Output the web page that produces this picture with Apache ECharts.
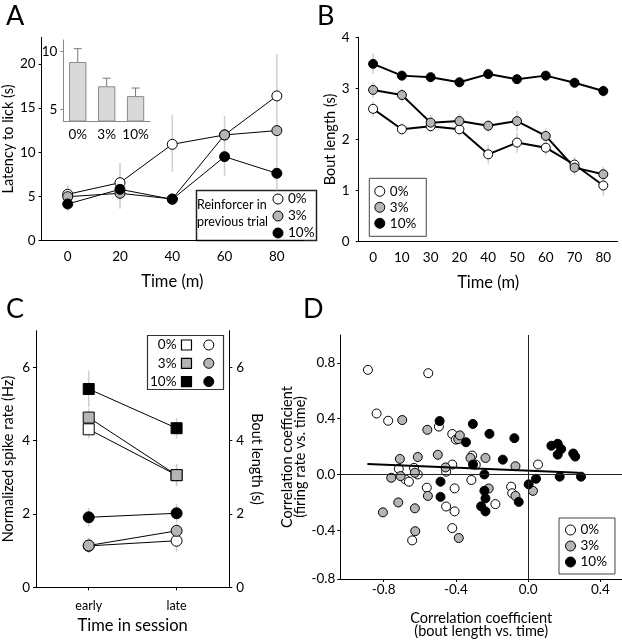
<!DOCTYPE html>
<html>
<head>
<meta charset="utf-8">
<script src="https://cdn.jsdelivr.net/npm/echarts@6/dist/echarts.min.js"></script>
<style>
  html, body { margin: 0; padding: 0; background: #fff; }
  #main { width: 622px; height: 640px; }
</style>
</head>
<body>
<div id="main"></div>
<script>
// ===== data =====
var groups = ['0%', '3%', '10%'];

// A: latency to lick (s) vs time (m)
var timeA = [0, 20, 40, 60, 80];
var latency0 = [5.25, 6.56, 10.9, 11.96, 16.37];
var latency3 = [4.98, 5.36, 4.72, 11.96, 12.45];
var latency10 = [4.15, 5.81, 4.68, 9.5, 7.62];
var latencyLow = [3.3, 3.6, 7.8, 7.3, 5.7];
var latencyHigh = [6.3, 8.8, 14.2, 14.1, 21.1];
var yTicksA = [0, 5, 10, 15, 20];
// A inset
var insetMean = [9.1, 7.0, 6.15];
var insetTop = [10.25, 7.7, 6.85];
var yTicksInset = [5, 10];

// B: bout length (s), categories kept as printed
var timeB = ['0', '10', '30', '20', '40', '50', '60', '70', '80'];
var bout0 = [2.6, 2.2, 2.26, 2.2, 1.71, 1.94, 1.84, 1.51, 1.10];
var bout3 = [2.97, 2.87, 2.33, 2.36, 2.27, 2.36, 2.07, 1.45, 1.32];
var bout10 = [3.48, 3.25, 3.22, 3.12, 3.28, 3.18, 3.25, 3.11, 2.95];
var boutSe0 = [0.15, 0.12, 0.12, 0.12, 0.18, 0.2, 0.15, 0.15, 0.2];
var boutSe3 = [0.15, 0.12, 0.15, 0.15, 0.12, 0.2, 0.15, 0.15, 0.15];
var boutSe10 = [0.2, 0.1, 0.1, 0.1, 0.1, 0.1, 0.1, 0.1, 0.12];

// C: spike rate (squares) and bout length (circles), early vs late
var sessions = ['early', 'late'];
var rate0 = [4.31, 3.06];
var rate3 = [4.63, 3.06];
var rate10 = [5.41, 4.34];
var rateSe0 = [0.25, 0.3];
var rateSe3 = [0.25, 0.3];
var rateSe10 = [0.5, 0.28];
var boutC0 = [1.13, 1.27];
var boutC3 = [1.14, 1.54];
var boutC10 = [1.91, 2.02];
var boutCSe0 = [0.2, 0.3];
var boutCSe3 = [0.2, 0.2];
var boutCSe10 = [0.25, 0.25];
var yTicksC = [0, 2, 4, 6];

// D: correlation coefficients [bout length vs time, firing rate vs time]
var dWhite = [[-0.887,0.75],[-0.553,0.726],[-0.839,0.437],[-0.775,0.385],[-0.494,0.343],[-0.42,0.29],
  [-0.40,0.25],[-0.31,0.135],[-0.42,0.071],[-0.454,0.02],[-0.716,0.04],[-0.679,-0.036],[-0.66,-0.052],
  [-0.632,0.047],[-0.611,0.0],[-0.561,-0.095],[-0.407,-0.1],[-0.454,-0.23],[-0.407,-0.265],
  [-0.42,-0.385],[-0.642,-0.473],[-0.314,-0.04],[-0.181,-0.213],[-0.094,-0.088],[-0.088,-0.135],
  [0.055,0.071],[-0.29,0.07]];
var dGray = [[-0.697,0.39],[-0.558,0.32],[-0.387,0.253],[-0.378,0.28],[-0.71,0.111],[-0.611,0.125],
  [-0.5,0.141],[-0.319,0.118],[-0.236,0.118],[-0.758,-0.024],[-0.706,-0.012],[-0.627,0.012],
  [-0.457,0.05],[-0.555,-0.154],[-0.719,-0.201],[-0.804,-0.272],[-0.627,-0.243],[-0.625,-0.407],
  [-0.384,-0.456],[-0.218,-0.101],[-0.07,0.059],[-0.07,-0.154],[0.027,-0.118]];
var dBlack = [[-0.49,0.383],[-0.306,0.362],[-0.214,0.291],[-0.076,0.26],[-0.344,0.231],[0.129,0.206],
  [0.164,0.22],[0.183,0.182],[0.164,0.142],[0.25,0.15],[0.261,0.128],[-0.14,0.106],[-0.305,0.071],
  [-0.485,-0.052],[-0.485,-0.161],[-0.242,0.0],[-0.242,-0.117],[-0.236,-0.172],[-0.26,-0.229],
  [-0.236,-0.265],[-0.052,-0.197],[0.003,-0.071],[0.044,-0.031],[0.175,-0.016],[0.293,-0.016]];
var dFit = [[-0.89, 0.075], [0.28, 0.012]];
var xTicksD = [-0.8, -0.4, 0, 0.4];
var yTicksD = [-0.75, -0.4, 0, 0.4, 0.8]; // bottom tick printed as -0.8 in the figure

// ===== chart =====
var chart = echarts.init(document.getElementById('main'));
var FONT = 'Lato, "Open Sans", sans-serif';
var fills = { '0%': '#ffffff', '3%': '#b5b5b5', '10%': '#000000' };

function valAxis(o) {
  var ax = {
    type: 'value',
    axisLine: { show: true, onZero: false, lineStyle: { color: '#000', width: 1 } },
    axisTick: { show: true, length: 3, lineStyle: { color: '#000' } },
    axisLabel: { color: '#000', fontSize: 13.5, fontFamily: FONT, margin: 6 },
    splitLine: { show: false },
    nameTextStyle: { color: '#000', fontSize: 14.5, fontFamily: FONT }
  };
  for (var k in o) {
    if (typeof o[k] === 'object' && ax[k] && !Array.isArray(o[k])) {
      for (var j in o[k]) ax[k][j] = o[k][j];
    } else ax[k] = o[k];
  }
  return ax;
}

function errSeries(xi, yi, rows, color, width) {
  return {
    type: 'custom', xAxisIndex: xi, yAxisIndex: yi, silent: true, z: 1,
    renderItem: function (params, api) {
      var a = api.coord([api.value(0), api.value(1)]);
      var b = api.coord([api.value(0), api.value(2)]);
      return { type: 'line', shape: { x1: a[0], y1: a[1], x2: b[0], y2: b[1] },
        style: { stroke: color, lineWidth: width } };
    },
    data: rows
  };
}

function seRows(vals, se) {
  return vals.map(function (v, i) { return [i, v - se[i], v + se[i]]; });
}

function lineSeries(name, xi, yi, data, symbol, size, lw) {
  return {
    name: name, type: 'line', xAxisIndex: xi, yAxisIndex: yi, data: data,
    symbol: symbol, symbolSize: size, z: 3,
    itemStyle: { color: fills[name.replace('sq', '')], borderColor: '#000', borderWidth: 1 },
    lineStyle: { color: '#000', width: lw },
    emphasis: { disabled: true }
  };
}

function zip(xs, ys) { return xs.map(function (x, i) { return [x, ys[i]]; }); }

var legendText = { color: '#000', fontSize: 13.5, fontFamily: FONT, lineHeight: 12 };

var option = {
  animation: false,
  backgroundColor: '#fff',
  textStyle: { fontFamily: FONT },
  title: [
    { text: 'A', left: 1, top: -2 },
    { text: 'B', left: 312, top: -2 },
    { text: 'C', left: 1, top: 291 },
    { text: 'D', left: 298, top: 291 }
  ].map(function (t) {
    t.textStyle = { fontSize: 27, fontWeight: 'normal', color: '#000', fontFamily: FONT };
    return t;
  }),
  grid: [
    { left: 35, top: 37.3, width: 268, height: 203.4 },      // A
    { left: 63.3, top: 40, width: 86.7, height: 81 },         // A inset
    { left: 358.7, top: 37.3, width: 259, height: 204.4 },   // B
    { left: 33.3, top: 330.7, width: 196, height: 256.6 },   // C
    { left: 340.3, top: 335, width: 281.7, height: 245 }     // D
  ],
  xAxis: [
    valAxis({ gridIndex: 0, min: -10, max: 90, name: 'Time (m)', nameLocation: 'middle', nameGap: 32,
      nameTextStyle: { fontSize: 16.5 },
      axisTick: { customValues: timeA, length: 0 }, axisLabel: { customValues: timeA, margin: 9 } }),
    { type: 'category', gridIndex: 1, data: groups,
      axisLine: { lineStyle: { color: '#888' } }, axisTick: { show: false },
      axisLabel: { color: '#000', fontSize: 13.5, fontFamily: FONT, margin: 7, interval: 0 } },
    { type: 'category', gridIndex: 2, data: timeB, name: 'Time (m)', nameLocation: 'middle', nameGap: 32,
      nameTextStyle: { color: '#000', fontSize: 16.5, fontFamily: FONT },
      axisLine: { lineStyle: { color: '#000' } }, axisTick: { show: false },
      axisLabel: { color: '#000', fontSize: 13.5, fontFamily: FONT, margin: 9, interval: 0 } },
    valAxis({ gridIndex: 3, min: -0.6, max: 1.6, name: 'Time in session', nameLocation: 'middle', nameGap: 30,
      nameTextStyle: { fontSize: 16.5 },
      axisTick: { customValues: [0, 1], length: 3 },
      axisLabel: { customValues: [0, 1], fontSize: 12.5, margin: 12,
        formatter: function (v) { return sessions[Math.round(v)]; } } }),
    valAxis({ gridIndex: 4, min: -1.04, max: 0.52, name: 'Correlation coefficient\n(bout length vs. time)',
      nameLocation: 'middle', nameGap: 33, nameTextStyle: { fontSize: 14.5, lineHeight: 13 },
      axisTick: { customValues: xTicksD, length: 3 },
      axisLabel: { customValues: xTicksD, margin: 4, formatter: function (v) { return v.toFixed(1); } } })
  ],
  yAxis: [
    valAxis({ gridIndex: 0, min: 0, max: 23, name: 'Latency to lick (s)', nameLocation: 'middle', nameGap: 21,
      axisTick: { customValues: yTicksA }, axisLabel: { customValues: yTicksA } }),
    valAxis({ gridIndex: 1, min: 4, max: 11,
      axisLine: { lineStyle: { color: '#888' } },
      axisTick: { customValues: yTicksInset, lineStyle: { color: '#888' } },
      axisLabel: { customValues: yTicksInset } }),
    valAxis({ gridIndex: 2, min: 0, max: 4, interval: 1, name: 'Bout length (s)', nameLocation: 'middle', nameGap: 19,
      axisLabel: { margin: 9 } }),
    valAxis({ gridIndex: 3, min: 0, max: 7, name: 'Normalized spike rate (Hz)', nameLocation: 'middle', nameGap: 20,
      axisTick: { customValues: yTicksC }, axisLabel: { customValues: yTicksC } }),
    valAxis({ gridIndex: 3, min: 0, max: 7, position: 'right', name: 'Bout length (s)', nameLocation: 'middle',
      nameGap: 20, nameRotate: -90,
      axisTick: { customValues: yTicksC }, axisLabel: { customValues: yTicksC, margin: 7 } }),
    valAxis({ gridIndex: 4, min: -0.75, max: 1.0, name: 'Correlation coefficient\n(firing rate vs. time)',
      nameLocation: 'middle', nameGap: 32, nameTextStyle: { fontSize: 14.5, lineHeight: 13 },
      axisTick: { customValues: yTicksD },
      axisLabel: { customValues: yTicksD, margin: 5,
        formatter: function (v) { return v < -0.7 ? '-0.8' : v.toFixed(1); } } })
  ],
  legend: [
    { // A
      data: groups.map(function (g) { return { name: g, icon: 'circle' }; }),
      orient: 'vertical', left: 272.5, top: 192, padding: 0, itemGap: 3,
      itemWidth: 10, itemHeight: 10, selectedMode: false, textStyle: legendText,
      itemStyle: { borderColor: '#000', borderWidth: 1 }
    },
    { // B
      data: groups.map(function (g) { return { name: g, icon: 'circle' }; }),
      orient: 'vertical', left: 369.3, top: 178.3, padding: [6, 10, 6, 5], itemGap: 2,
      itemWidth: 10, itemHeight: 10, selectedMode: false, textStyle: legendText,
      borderColor: '#444', borderWidth: 1,
      itemStyle: { borderColor: '#000', borderWidth: 1 }
    },
    { // C squares, text on the left
      data: groups.map(function (g) { return { name: 'sq' + g, icon: 'rect' }; }),
      formatter: function (n) { return n.replace('sq', ''); },
      orient: 'vertical', left: 150, top: 338, padding: 0, itemGap: 4.3, align: 'right',
      itemWidth: 10, itemHeight: 10, selectedMode: false, textStyle: legendText,
      itemStyle: { borderColor: '#000', borderWidth: 1.2 }
    },
    { // C circles, no text
      data: groups.map(function (g) { return { name: g, icon: 'circle' }; }),
      formatter: function () { return ' '; },
      orient: 'vertical', left: 203.3, top: 338, padding: 0, itemGap: 4.3,
      itemWidth: 10, itemHeight: 10, selectedMode: false, textStyle: legendText,
      itemStyle: { borderColor: '#000', borderWidth: 1 }
    },
    { // D
      data: groups.map(function (g) { return { name: g, icon: 'circle' }; }),
      orient: 'vertical', left: 559, top: 518, padding: [5, 8, 5, 6], itemGap: 2,
      itemWidth: 10, itemHeight: 10, selectedMode: false, textStyle: legendText,
      borderColor: '#444', borderWidth: 1,
      itemStyle: { borderColor: '#000', borderWidth: 1 }
    }
  ],
  graphic: [
    { type: 'rect', left: 194, top: 188, shape: { width: 120, height: 50 },
      style: { fill: 'none', stroke: '#222', lineWidth: 1.5 } },
    { type: 'text', left: 197, top: 196,
      style: { text: 'Reinforcer in\nprevious trial', font: '12.5px Lato', lineHeight: 17, fill: '#000' } },
    { type: 'rect', left: 145, top: 333, shape: { width: 76, height: 54 },
      style: { fill: 'none', stroke: '#333', lineWidth: 1.2 } }
  ],
  series: [
    // A
    errSeries(0, 0, timeA.map(function (t, i) { return [t, latencyLow[i], latencyHigh[i]]; }), '#cfcfcf', 1.5),
    lineSeries('0%', 0, 0, zip(timeA, latency0), 'circle', 10, 1),
    lineSeries('3%', 0, 0, zip(timeA, latency3), 'circle', 10, 1),
    lineSeries('10%', 0, 0, zip(timeA, latency10), 'circle', 10, 1),
    // A inset
    {
      type: 'bar', xAxisIndex: 1, yAxisIndex: 1, data: insetMean, barWidth: '60%', silent: true,
      itemStyle: { color: '#d9d9d9', borderColor: '#8a8a8a', borderWidth: 1 }
    },
    {
      type: 'custom', xAxisIndex: 1, yAxisIndex: 1, silent: true, z: 3,
      renderItem: function (params, api) {
        var base = api.coord([api.value(0), api.value(1)]);
        var top = api.coord([api.value(0), api.value(2)]);
        return { type: 'group', children: [
          { type: 'line', shape: { x1: base[0], y1: base[1], x2: top[0], y2: top[1] },
            style: { stroke: '#777', lineWidth: 1 } },
          { type: 'line', shape: { x1: top[0] - 4, y1: top[1], x2: top[0] + 4, y2: top[1] },
            style: { stroke: '#777', lineWidth: 1 } }
        ] };
      },
      data: insetMean.map(function (m, i) { return [i, m, insetTop[i]]; })
    },
    // B
    errSeries(2, 2, seRows(bout0, boutSe0), '#cfcfcf', 1.5),
    errSeries(2, 2, seRows(bout3, boutSe3), '#cfcfcf', 1.5),
    errSeries(2, 2, seRows(bout10, boutSe10), '#cfcfcf', 1.5),
    lineSeries('0%', 2, 2, bout0, 'circle', 9, 2),
    lineSeries('3%', 2, 2, bout3, 'circle', 9, 2),
    lineSeries('10%', 2, 2, bout10, 'circle', 9, 2),
    // C
    errSeries(3, 3, seRows(rate0, rateSe0), '#cfcfcf', 1.5),
    errSeries(3, 3, seRows(rate3, rateSe3), '#cfcfcf', 1.5),
    errSeries(3, 3, seRows(rate10, rateSe10), '#cfcfcf', 1.5),
    errSeries(3, 4, seRows(boutC0, boutCSe0), '#cfcfcf', 1.5),
    errSeries(3, 4, seRows(boutC3, boutCSe3), '#cfcfcf', 1.5),
    errSeries(3, 4, seRows(boutC10, boutCSe10), '#cfcfcf', 1.5),
    lineSeries('sq0%', 3, 3, zip([0, 1], rate0), 'rect', 11, 1),
    lineSeries('sq3%', 3, 3, zip([0, 1], rate3), 'rect', 11, 1),
    lineSeries('sq10%', 3, 3, zip([0, 1], rate10), 'rect', 11, 1),
    lineSeries('0%', 3, 4, zip([0, 1], boutC0), 'circle', 11, 1),
    lineSeries('3%', 3, 4, zip([0, 1], boutC3), 'circle', 11, 1),
    lineSeries('10%', 3, 4, zip([0, 1], boutC10), 'circle', 11, 1),
    // D
    {
      name: '0%', type: 'scatter', xAxisIndex: 4, yAxisIndex: 5, data: dWhite, symbolSize: 9,
      itemStyle: { color: fills['0%'], borderColor: '#000', borderWidth: 1, opacity: 1 }
    },
    {
      name: '3%', type: 'scatter', xAxisIndex: 4, yAxisIndex: 5, data: dGray, symbolSize: 9,
      itemStyle: { color: fills['3%'], borderColor: '#000', borderWidth: 1, opacity: 1 }
    },
    {
      name: '10%', type: 'scatter', xAxisIndex: 4, yAxisIndex: 5, data: dBlack, symbolSize: 9,
      itemStyle: { color: fills['10%'], borderColor: '#000', borderWidth: 1, opacity: 1 }
    },
    {
      type: 'line', xAxisIndex: 4, yAxisIndex: 5, data: dFit, symbol: 'none', z: 4, silent: true,
      lineStyle: { color: '#000', width: 2 },
      markLine: {
        silent: true, symbol: 'none', label: { show: false },
        lineStyle: { color: '#222', width: 1, type: 'solid' },
        data: [{ xAxis: 0 }, { yAxis: 0 }]
      }
    }
  ]
};

chart.setOption(option);
</script>
</body>
</html>
